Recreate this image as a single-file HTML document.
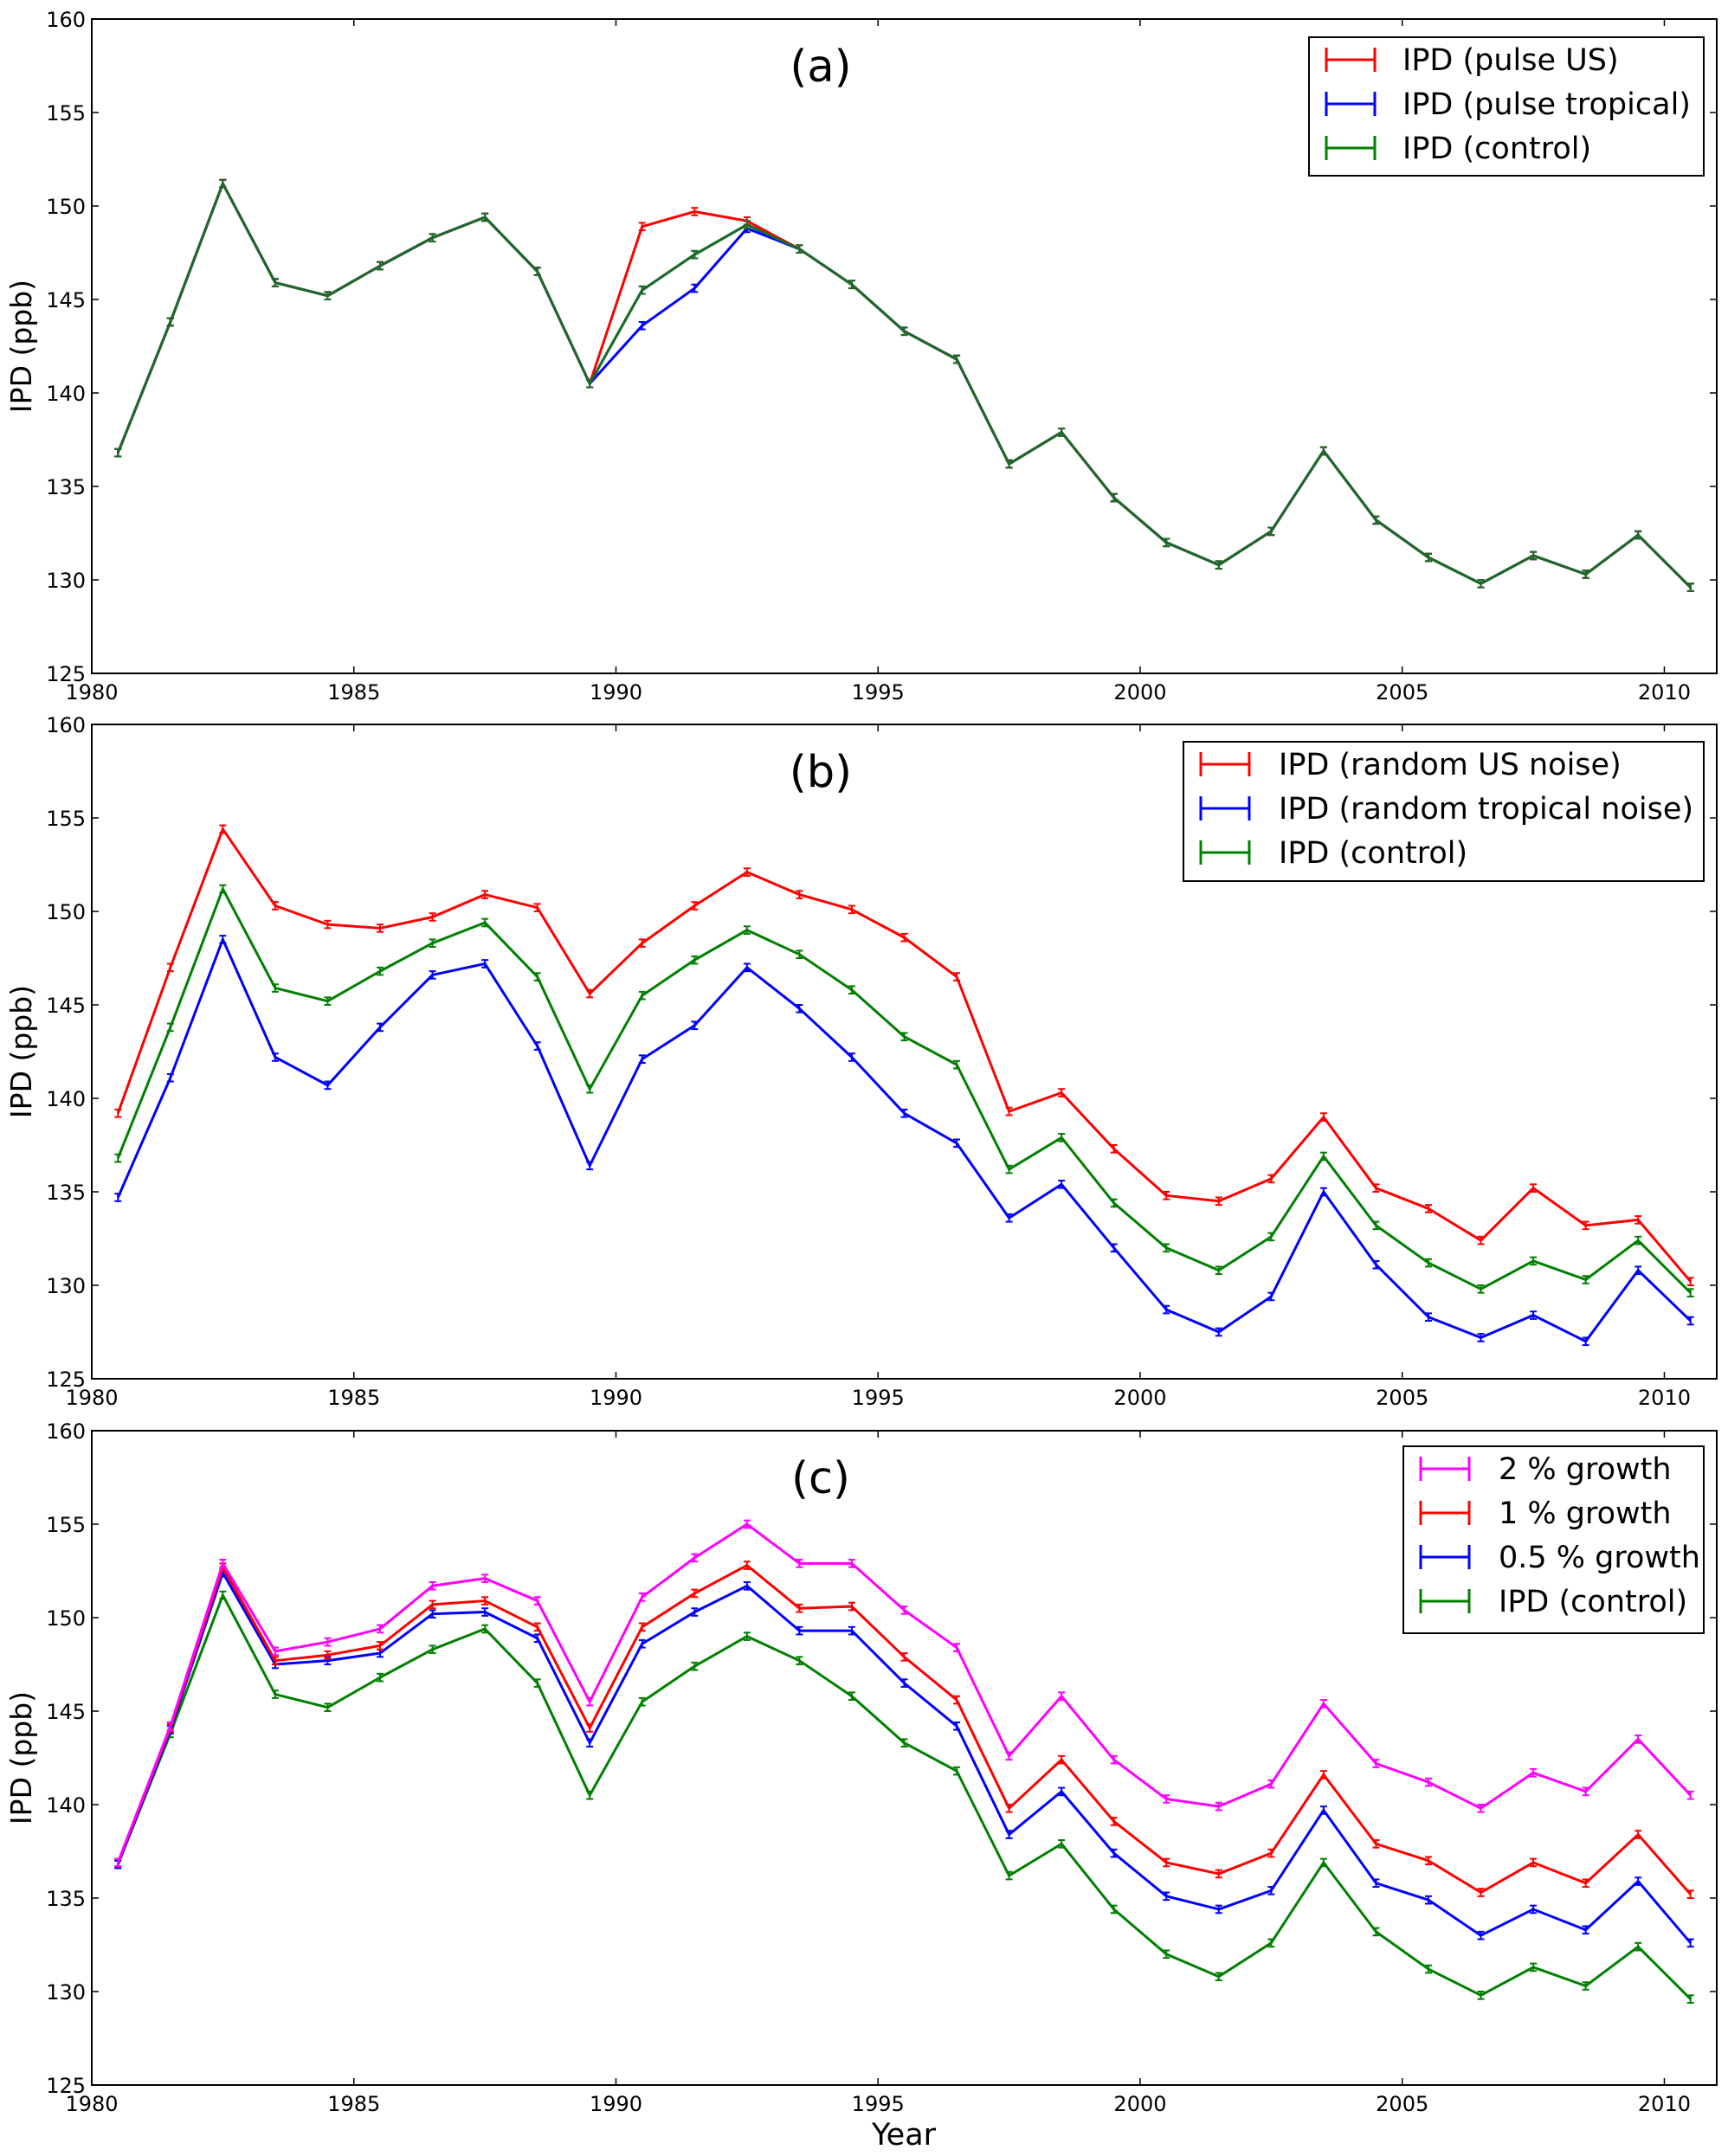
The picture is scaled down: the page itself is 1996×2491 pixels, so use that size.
<!DOCTYPE html>
<html><head><meta charset="utf-8"><style>
body{margin:0;background:#fff;}
svg text{font-family:"DejaVu Sans","Liberation Sans",sans-serif;}
</style></head><body>
<svg id="chart" width="1996" height="2486" xmlns="http://www.w3.org/2000/svg"></svg>
<script>
const years = [1980.5,1981.5,1982.5,1983.5,1984.5,1985.5,1986.5,1987.5,1988.5,1989.5,1990.5,1991.5,1992.5,1993.5,1994.5,1995.5,1996.5,1997.5,1998.5,1999.5,2000.5,2001.5,2002.5,2003.5,2004.5,2005.5,2006.5,2007.5,2008.5,2009.5,2010.5];
const control = [136.8,143.8,151.2,145.9,145.2,146.8,148.3,149.4,146.5,140.5,145.5,147.4,149.0,147.7,145.8,143.3,141.8,136.2,137.9,134.4,132.0,130.8,132.6,136.9,133.2,131.2,129.8,131.3,130.3,132.4,129.6];
const pulseUS = [136.8,143.8,151.2,145.9,145.2,146.8,148.3,149.4,146.5,140.5,148.9,149.7,149.2,147.7,145.8,143.3,141.8,136.2,137.9,134.4,132.0,130.8,132.6,136.9,133.2,131.2,129.8,131.3,130.3,132.4,129.6];
const pulseTrop = [136.8,143.8,151.2,145.9,145.2,146.8,148.3,149.4,146.5,140.5,143.6,145.6,148.8,147.7,145.8,143.3,141.8,136.2,137.9,134.4,132.0,130.8,132.6,136.9,133.2,131.2,129.8,131.3,130.3,132.4,129.6];
const randUS = [139.2,147.0,154.4,150.3,149.3,149.1,149.7,150.9,150.2,145.6,148.3,150.3,152.1,150.9,150.1,148.6,146.5,139.3,140.3,137.3,134.8,134.5,135.7,139.0,135.2,134.1,132.4,135.2,133.2,133.5,130.2];
const randTrop = [134.7,141.1,148.5,142.2,140.7,143.8,146.6,147.2,142.8,136.4,142.1,143.9,147.0,144.8,142.2,139.2,137.6,133.6,135.4,132.0,128.7,127.5,129.4,135.0,131.1,128.3,127.2,128.4,127.0,130.8,128.1];
const growth2 = [136.9,144.2,152.9,148.2,148.7,149.4,151.7,152.1,150.9,145.5,151.1,153.2,155.0,152.9,152.9,150.4,148.4,142.6,145.8,142.4,140.3,139.9,141.1,145.4,142.2,141.2,139.8,141.7,140.7,143.5,140.5];
const growth1 = [136.9,144.1,152.7,147.7,148.0,148.5,150.7,150.9,149.5,144.1,149.5,151.3,152.8,150.5,150.6,147.9,145.6,139.8,142.4,139.1,136.9,136.3,137.4,141.6,137.9,137.0,135.3,136.9,135.8,138.4,135.2];
const growth05 = [136.8,144.0,152.4,147.5,147.7,148.1,150.2,150.3,148.9,143.3,148.6,150.3,151.7,149.3,149.3,146.5,144.2,138.4,140.7,137.4,135.1,134.4,135.4,139.7,135.8,134.9,133.0,134.4,133.3,135.9,132.6];
const xTicks = [1980,1985,1990,1995,2000,2005,2010];
const yTicks = [125,130,135,140,145,150,155,160];

const NS="http://www.w3.org/2000/svg";
const svg=document.getElementById('chart');
function el(tag,attrs,parent){const e=document.createElementNS(NS,tag);for(const k in attrs)e.setAttribute(k,attrs[k]);(parent||svg).appendChild(e);return e;}
const L=106,R=1983,X0=1980,X1=2011,Y0=125,Y1=160;
const xs=v=>L+(v-X0)/(X1-X0)*(R-L);

const panels=[
 {id:'a',top:22,title:'(a)',series:[[pulseUS,'#ff0000','IPD (pulse US)'],[pulseTrop,'#0000ff','IPD (pulse tropical)'],[control,'#008000','IPD (control)']],
  leg:{x:1512,y:43,w:456,h:160,tx:1620}, draw:[[control,'#008000'],[pulseTrop,'#0000ff'],[pulseUS,'#ff0000'],[control,'#1a6b2a']]},
 {id:'b',top:837,title:'(b)',series:[[randUS,'#ff0000','IPD (random US noise)'],[randTrop,'#0000ff','IPD (random tropical noise)'],[control,'#008000','IPD (control)']],
  leg:{x:1367,y:857,w:601,h:161,tx:1477}},
 {id:'c',top:1653,title:'(c)',series:[[growth2,'#ff00ff','2 % growth'],[growth1,'#ff0000','1 % growth'],[growth05,'#0000ff','0.5 % growth'],[control,'#008000','IPD (control)']],
  leg:{x:1621,y:1671,w:347,h:216,tx:1731}}
];
const H=756;
panels.forEach(p=>{
  const g=el('g',{});
  
  
  const ys=v=>p.top+H-(v-Y0)/(Y1-Y0)*H;
  const B=p.top+H;
  xTicks.forEach(t=>{
    const x=xs(t);
    el('line',{x1:x,x2:x,y1:B,y2:B-8,stroke:'#000','stroke-width':1.5},g);
    el('line',{x1:x,x2:x,y1:p.top,y2:p.top+8,stroke:'#000','stroke-width':1.5},g);
    const tx=el('text',{x:x,y:B+30,'font-size':24,'text-anchor':'middle'},g);tx.textContent=t;
    
    
  });
  yTicks.forEach(t=>{
    const y=ys(t);
    el('line',{x1:L,x2:L+8,y1:y,y2:y,stroke:'#000','stroke-width':1.5},g);
    el('line',{x1:R,x2:R-8,y1:y,y2:y,stroke:'#000','stroke-width':1.5},g);
    const tx=el('text',{x:L-7,y:y+9,'font-size':24,'text-anchor':'end'},g);tx.textContent=t;
    
    
  });
  const yl=el('text',{x:0,y:0,'font-size':33,'text-anchor':'middle',transform:`translate(36,${p.top+H/2}) rotate(-90)`},g);
  yl.textContent='IPD (ppb)';
  
  
  const draw=p.draw||p.series.slice().reverse().map(s=>[s[0],s[1]]);
  draw.forEach(([vals,col])=>{
    const pts=vals.map((v,i)=>xs(years[i])+','+ys(v)).join(' ');
    const line=el('polyline',{points:pts,fill:'none',stroke:col,'stroke-width':3,'stroke-linejoin':'round'},g);
    
    
    vals.forEach((v,i)=>{
      const x=xs(years[i]),y1=ys(v+0.2),y2=ys(v-0.2);
      el('line',{x1:x,x2:x,y1:y1,y2:y2,stroke:col,'stroke-width':2},g);
      el('line',{x1:x-4,x2:x+4,y1:y1,y2:y1,stroke:col,'stroke-width':2},g);
      el('line',{x1:x-4,x2:x+4,y1:y2,y2:y2,stroke:col,'stroke-width':2},g);
    });
  });
  el('rect',{x:L,y:p.top,width:R-L,height:H,fill:'none',stroke:'#000','stroke-width':2},g);
  const tt=el('text',{x:948,y:p.top+72,'font-size':51,'text-anchor':'middle'},g);tt.textContent=p.title;
  
  
  const lg=el('g',{},g);
  
  
  el('rect',{x:p.leg.x,y:p.leg.y,width:p.leg.w,height:p.leg.h,fill:'#fff',stroke:'#000','stroke-width':2},lg);
  p.series.forEach((s,i)=>{
    const y=p.leg.y+26+i*51;
    const e=el('g',{},lg);
    
    
    const x1=p.leg.x+20,x2=p.leg.x+76;
    el('line',{x1:x1,x2:x2,y1:y,y2:y,stroke:s[1],'stroke-width':3},e);
    el('line',{x1:x1,x2:x1,y1:y-14,y2:y+14,stroke:s[1],'stroke-width':3},e);
    el('line',{x1:x2,x2:x2,y1:y-14,y2:y+14,stroke:s[1],'stroke-width':3},e);
    const t=el('text',{x:p.leg.tx,y:y+12,'font-size':35},e);t.textContent=s[2];
  });
});
const xl=el('text',{x:1044,y:2478,'font-size':35,'text-anchor':'middle'});
xl.textContent='Year';


</script>
</body></html>
